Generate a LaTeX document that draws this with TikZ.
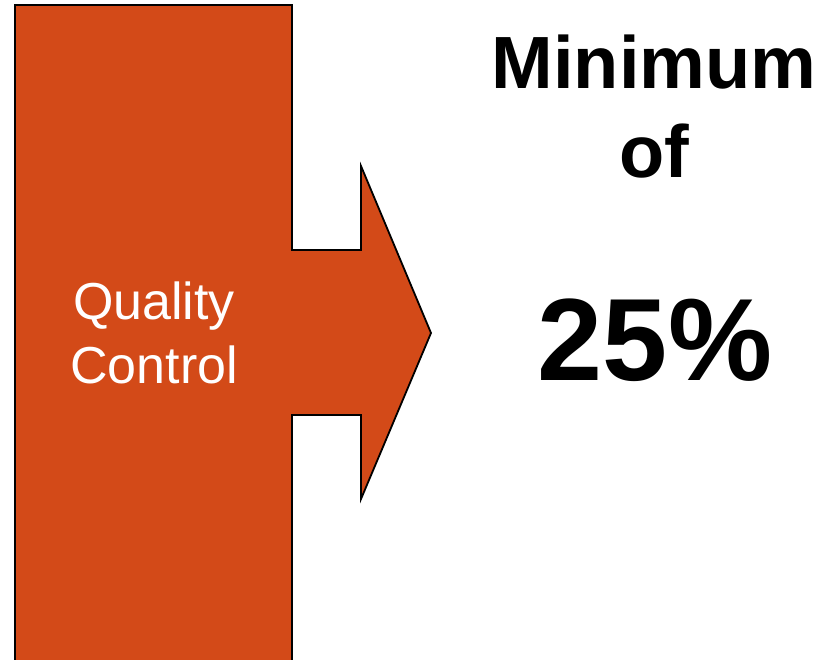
\documentclass[tikz,border=0pt]{standalone}
\usepackage{fontspec}
\setmainfont{Liberation Sans}
\definecolor{qcorange}{RGB}{211,74,24}
\tikzset{
  shapefill/.style={fill=qcorange,draw=black,line width=1.8pt,line join=miter},
  bigtext/.style={font=\fontsize{74}{80}\selectfont\bfseries,inner sep=0pt,anchor=base},
  hugetext/.style={font=\fontsize{117}{120}\selectfont\bfseries,inner sep=0pt,anchor=base},
  labeltext/.style={font=\fontsize{52}{64}\selectfont,text=white,align=center,inner sep=0pt}
}
\begin{document}
\begin{tikzpicture}[x=1pt,y=-1pt]
\useasboundingbox (0,0) rectangle (821,659);
\draw[shapefill] (15,680) -- (15,5) -- (292,5) -- (292,250) -- (361,250) -- (361,166)
  -- (431,333) -- (361,499) -- (361,415) -- (292,415) -- (292,680) -- cycle;
\node[labeltext] (qc) at (154,333) {Quality\\Control};
\node[bigtext] (min) at (654,88) {Minimum};
\node[bigtext] (of) at (654,177) {of};
\node[hugetext] (pct) at (655,380) {25\%};
\end{tikzpicture}
\end{document}
